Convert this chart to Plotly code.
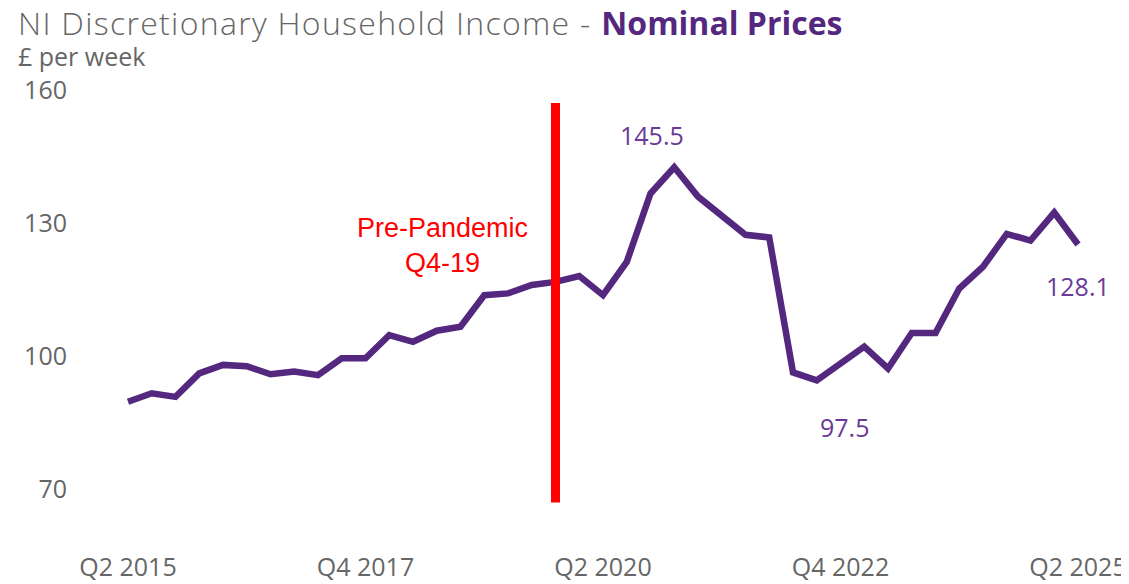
import plotly.graph_objects as go

# ---- data ----
start_year, start_q = 2015, 2
quarters = []
y, q = start_year, start_q
for _ in range(41):
    quarters.append(f"Q{q} {y}")
    q += 1
    if q > 4:
        q = 1
        y += 1

income = [92.7, 94.6, 93.8, 99.1, 101.0, 100.7, 98.9, 99.5, 98.7, 102.5,
          102.5, 107.7, 106.2, 108.7, 109.6, 116.7, 117.1, 119.0, 119.7, 121.0,
          116.7, 124.2, 139.6, 145.5, 138.9, 134.5, 130.3, 129.7, 99.3, 97.5,
          101.4, 105.1, 100.2, 108.2, 108.2, 118.2, 123.1, 130.5, 129.0, 135.3,
          128.1]

x_tick_labels = ["Q2 2015", "Q4 2017", "Q2 2020", "Q4 2022", "Q2 2025"]
y_ticks = [70, 100, 130, 160]
marker_quarter = "Q4 2019"
marker_text = "Pre-Pandemic<br>Q4-19"
labelled = {"Q1 2021": (145.5, -22, 32), "Q4 2022": (97.5, 4, -47), "Q2 2025": (128.1, 0, -41)}
title_main = "NI Discretionary Household Income - "
title_accent = "Nominal Prices"
subtitle = "£ per week"

LINE = "#55287f"
LABEL = "#6a3a98"
GREY = "#666666"

# page has an 8px body margin; the figure is sized to fit the window
W, H = 1121, 576
ML, MR, MT, MB = 67, 20, 72, 34
PW, PH = W - ML - MR, H - MT - MB
X0, STEP = 120, 23.75  # pixel of first quarter, pixels per quarter

idx = list(range(len(quarters)))
fig = go.Figure()
fig.add_trace(go.Scatter(x=idx, y=income, mode="lines",
                         line=dict(color=LINE, width=6.5), hoverinfo="skip"))

mi = quarters.index(marker_quarter)
fig.add_trace(go.Scatter(x=[mi, mi], y=[y_ticks[0], y_ticks[-1]], mode="lines",
                         line=dict(color="#ff0000", width=9), hoverinfo="skip"))

fig.add_annotation(x=mi, y=127.8, text=marker_text, showarrow=False,
                   xanchor="right", yanchor="middle", xshift=-26, align="center",
                   font=dict(family="Liberation Sans, Arial", size=27, color="#ff0000"))

for qlab, (val, dx, dy) in labelled.items():
    fig.add_annotation(x=quarters.index(qlab), y=val, text=f"{val:.1f}", showarrow=False,
                       xshift=dx, yshift=dy,
                       font=dict(family="Open Sans", size=25, color=LABEL))

# title and subtitle
fig.add_annotation(xref="paper", yref="paper", x=(8 - ML) / PW, y=1 + (MT - 15) / PH,
                   xanchor="left", yanchor="middle", showarrow=False,
                   text=(f"<span style='letter-spacing:1.3px'>{title_main}</span>"
                         f"<span style='color:{LINE};font-size:32px'><b>{title_accent}</b></span>"),
                   font=dict(family="Open Sans", size=32, color=GREY, weight=300))
fig.add_annotation(xref="paper", yref="paper", x=(8 - ML) / PW, y=1 + (MT - 48) / PH,
                   xanchor="left", yanchor="middle", showarrow=False,
                   text=subtitle,
                   font=dict(family="Open Sans", size=25, color=GREY))

fig.update_layout(
    width=W, height=H,
    margin=dict(l=ML, r=MR, t=MT, b=MB),
    paper_bgcolor="white", plot_bgcolor="white",
    showlegend=False,
)

tick_idx = [quarters.index(t) for t in x_tick_labels]
fig.update_xaxes(range=[-(X0 - ML) / STEP, (W - MR - X0) / STEP],
                 tickmode="array", tickvals=tick_idx, ticktext=x_tick_labels,
                 showgrid=False, zeroline=False, showline=False, automargin=False,
                 tickfont=dict(family="Open Sans", size=25, color=GREY))
fig.update_yaxes(range=[59.31, 165.16], tickmode="array", tickvals=y_ticks,
                 showgrid=False, zeroline=False, showline=False, automargin=False,
                 ticklabelshift=-13, ticklabelstandoff=7,
                 tickfont=dict(family="Open Sans", size=25, color=GREY))

fig.write_html("out.html")
